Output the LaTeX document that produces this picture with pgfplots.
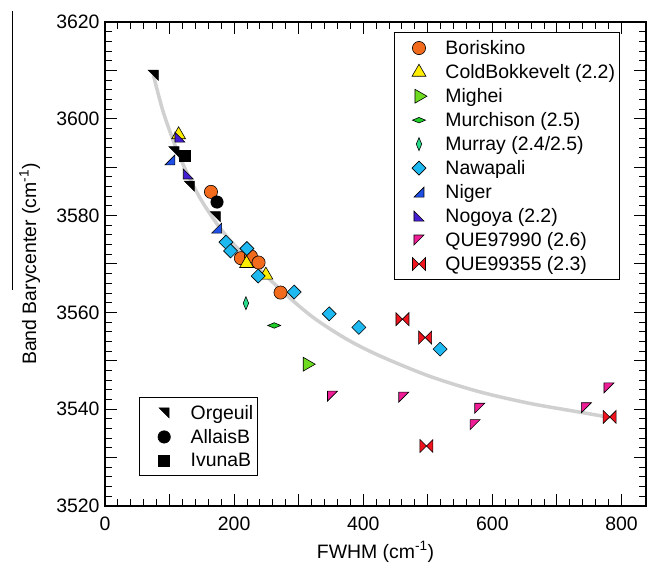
\documentclass[border=0pt]{standalone}
\usepackage{fontspec}
\setmainfont{Liberation Sans}
\usepackage{pgfplots}
\pgfplotsset{compat=1.18}

\definecolor{orangeB}{RGB}{242,106,28}
\definecolor{yellowCB}{RGB}{255,238,0}
\definecolor{greenMi}{RGB}{110,220,30}
\definecolor{greenMu}{RGB}{30,205,40}
\definecolor{tealMy}{RGB}{40,220,140}
\definecolor{blueNa}{RGB}{30,185,240}
\definecolor{blueNi}{RGB}{30,80,230}
\definecolor{purpNo}{RGB}{70,30,210}
\definecolor{pinkQ}{RGB}{240,30,150}
\definecolor{redQ}{RGB}{240,20,30}
\definecolor{curvegray}{RGB}{208,208,208}

\pgfdeclareplotmark{trNE}{%
  \pgfpathmoveto{\pgfqpoint{-\pgfplotmarksize}{\pgfplotmarksize}}%
  \pgfpathlineto{\pgfqpoint{\pgfplotmarksize}{\pgfplotmarksize}}%
  \pgfpathlineto{\pgfqpoint{\pgfplotmarksize}{-\pgfplotmarksize}}%
  \pgfpathclose\pgfusepathqfillstroke}
\pgfdeclareplotmark{trSE}{%
  \pgfpathmoveto{\pgfqpoint{-\pgfplotmarksize}{-\pgfplotmarksize}}%
  \pgfpathlineto{\pgfqpoint{\pgfplotmarksize}{-\pgfplotmarksize}}%
  \pgfpathlineto{\pgfqpoint{\pgfplotmarksize}{\pgfplotmarksize}}%
  \pgfpathclose\pgfusepathqfillstroke}
\pgfdeclareplotmark{trSW}{%
  \pgfpathmoveto{\pgfqpoint{-\pgfplotmarksize}{\pgfplotmarksize}}%
  \pgfpathlineto{\pgfqpoint{-\pgfplotmarksize}{-\pgfplotmarksize}}%
  \pgfpathlineto{\pgfqpoint{\pgfplotmarksize}{-\pgfplotmarksize}}%
  \pgfpathclose\pgfusepathqfillstroke}
\pgfdeclareplotmark{trNW}{%
  \pgfpathmoveto{\pgfqpoint{-\pgfplotmarksize}{-\pgfplotmarksize}}%
  \pgfpathlineto{\pgfqpoint{-\pgfplotmarksize}{\pgfplotmarksize}}%
  \pgfpathlineto{\pgfqpoint{\pgfplotmarksize}{\pgfplotmarksize}}%
  \pgfpathclose\pgfusepathqfillstroke}
\pgfdeclareplotmark{dia}{%
  \pgfpathmoveto{\pgfqpoint{0pt}{\pgfplotmarksize}}%
  \pgfpathlineto{\pgfqpoint{\pgfplotmarksize}{0pt}}%
  \pgfpathlineto{\pgfqpoint{0pt}{-\pgfplotmarksize}}%
  \pgfpathlineto{\pgfqpoint{-\pgfplotmarksize}{0pt}}%
  \pgfpathclose\pgfusepathqfillstroke}
\pgfdeclareplotmark{bowtie}{%
  \pgfpathmoveto{\pgfqpoint{-\pgfplotmarksize}{\pgfplotmarksize}}%
  \pgfpathlineto{\pgfqpoint{-\pgfplotmarksize}{-\pgfplotmarksize}}%
  \pgfpathlineto{\pgfqpoint{0pt}{0pt}}%
  \pgfpathclose
  \pgfpathmoveto{\pgfqpoint{\pgfplotmarksize}{\pgfplotmarksize}}%
  \pgfpathlineto{\pgfqpoint{\pgfplotmarksize}{-\pgfplotmarksize}}%
  \pgfpathlineto{\pgfqpoint{0pt}{0pt}}%
  \pgfpathclose\pgfusepathqfillstroke}

\begin{document}
\begin{tikzpicture}[font=\fontsize{19.5}{23.4}\selectfont]
\pgfplotsset{
  common/.style={at={(0,0)}, anchor=south west, scale only axis,
    width=541bp, height=484bp, xmin=0, xmax=838, ymin=3520, ymax=3620},
  mylegend/.style={legend cell align=left,
    legend image code/.code={%
      \path[draw=none,fill=none] (0bp,-1bp) rectangle (46.5bp,1bp);
      \draw[mark repeat=2,mark phase=2,##1,draw=none] plot coordinates {(0bp,0bp)(21.5bp,0bp)(43bp,0bp)};},
    legend style={draw=black, line width=1.2bp, inner xsep=3bp, inner ysep=7.5bp,
      row sep=8.4bp, nodes={inner xsep=1.5bp, inner ysep=0bp},
      font=\fontsize{19.5}{23.4}\selectfont}},
  mk/.style n args={3}{only marks, mark=#1, mark size=#2,
    mark options={draw=black, fill=#3, line width=0.6bp}},
}
\begin{axis}[common, mylegend,
  legend style={at={(rel axis cs:0.534,0.979)}, anchor=north west},
  xtick={0,100,...,800}, xticklabels={0,,200,,400,,600,,800},
  ytick={3520,3530,...,3620}, yticklabels={3520,,3540,,3560,,3580,,3600,,3620},
  minor x tick num=4, minor y tick num=4,
  major tick length=12bp, minor tick length=7bp,
  tick style={black, line width=1bp},
  axis line style={black, line width=1.3bp},
  tick pos=both,
  xticklabel style={yshift=-7bp},
  yticklabel style={xshift=-2bp},
  xlabel={FWHM (cm\textsuperscript{-1})},
  ylabel={Band Barycenter (cm\textsuperscript{-1})},
  xlabel style={at={(axis description cs:0.5,-0.095)}, anchor=center},
  ylabel style={at={(axis description cs:-0.139,0.5)}, anchor=center},
]
\addplot[forget plot, smooth, color=curvegray, line width=3.5bp] coordinates {
 (75,3609) (90,3601.5) (110,3594) (130,3588) (150,3583) (175,3578) (200,3574)
 (240,3568.8) (276,3564.2) (322,3559) (374,3554.5) (426,3551) (503,3546.8)
 (580,3543.6) (658,3541.2) (735,3539.4) (782,3538.3)};
\addplot[mk={*}{6.6bp}{orangeB}] coordinates {
 (164.1,3584.9) (210.5,3571.2) (226,3571.6) (237.9,3570.3) (271.9,3564.1)};
\addplot[mk={triangle*}{8bp}{yellowCB}] coordinates {
 (114,3596.7) (219.3,3570.1) (249.2,3567.7)};
\addplot[only marks, mark=triangle*, mark size=8bp,
  mark options={draw=black, fill=greenMi, line width=0.6bp, rotate=-90}] coordinates {
 (313.2,3549.3)};
\addplot[only marks, mark=dia, mark size=6.5bp,
  mark options={draw=black, fill=greenMu, line width=0.6bp, yscale=0.42}] coordinates {
 (262.1,3557.3)};
\addplot[only marks, mark=dia, mark size=6.5bp,
  mark options={draw=black, fill=tealMy, line width=0.6bp, xscale=0.42}] coordinates {
 (218.3,3561.9)};
\addplot[mk={dia}{7bp}{blueNa}] coordinates {
 (187.3,3574.5) (194.5,3572.7) (219.8,3573.2) (237.3,3567.5) (293,3564.2)
 (347.3,3559.7) (393.2,3556.9) (519.1,3552.4)};
\addplot[mk={trSE}{5bp}{blueNi}] coordinates {
 (100.6,3591.5) (172.9,3577.4)};
\addplot[mk={trSW}{5bp}{purpNo}] coordinates {
 (116.1,3596.2) (129,3588.6)};
\addplot[mk={trNW}{5bp}{pinkQ}] coordinates {
 (352.4,3542.7) (462.8,3542.5) (580.5,3540.2) (573.2,3536.8) (745.6,3540.3) (780.6,3544.4)};
\addplot[mk={bowtie}{6.5bp}{redQ}] coordinates {
 (460.8,3558.6) (495.9,3554.8) (497.9,3532.4) (781.7,3538.4)};
\legend{Boriskino, ColdBokkevelt (2.2), Mighei, Murchison (2.5),
 Murray (2.4/2.5), Nawapali, Niger, Nogoya (2.2), QUE97990 (2.6),
 QUE99355 (2.3)}
\end{axis}
\begin{axis}[common, mylegend, hide axis,
  legend style={at={(rel axis cs:0.063,0.225)}, anchor=north west}]
\addplot[mk={trNE}{5bp}{black}] coordinates {
 (74.8,3609) (106.8,3593.2) (130.5,3586.1) (170.8,3579.8)};
\addplot[mk={*}{6.2bp}{black}] coordinates {(173.5,3582.8)};
\addplot[mk={square*}{5.5bp}{black}] coordinates {(123.8,3592.3)};
\legend{Orgeuil, AllaisB, IvunaB}
\end{axis}
\draw[line width=0.8bp] (-93bp,494.5bp) -- (-93bp,216bp);
\pgfresetboundingbox
\path[use as bounding box] (-105bp,-60bp) rectangle (543bp,506bp);
\end{tikzpicture}
\end{document}
